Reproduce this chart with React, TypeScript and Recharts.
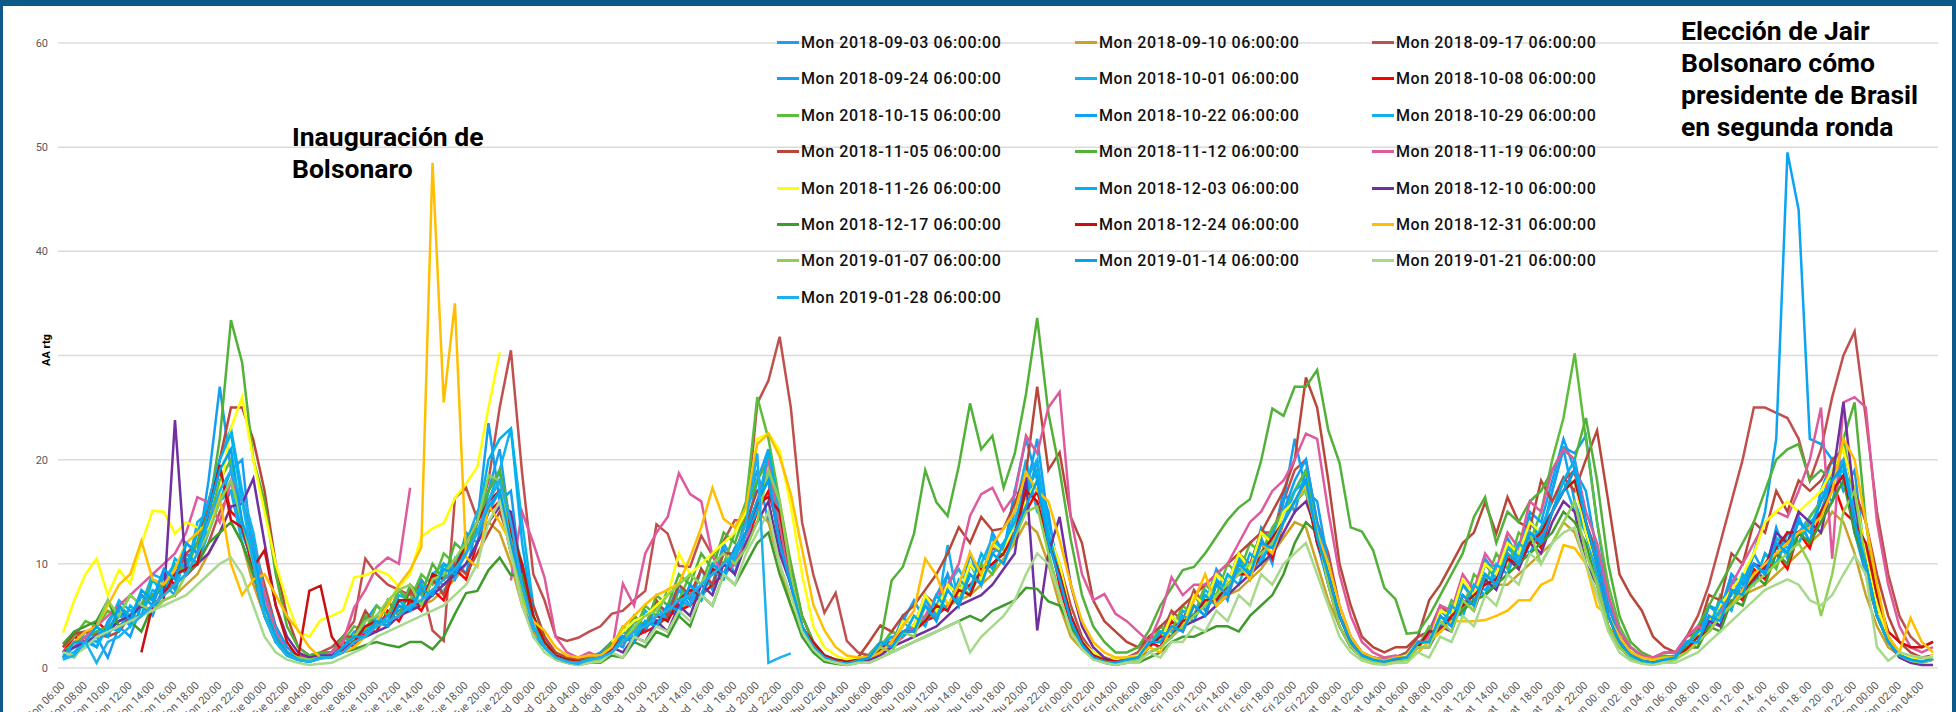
import React from "react";
import { LineChart, Line, XAxis, YAxis, CartesianGrid } from "recharts";

const FONT = "Roboto, 'Liberation Sans', Arial, sans-serif";
const N = null;

// Hourly categories from Mon 06:00 to the next Mon 05:00 (168 points).
const DAY_PREFIX = ["Mon ", "Tue ", "Wed  ", "Thu ", "Fri ", "Sat  ", "Sun ", "Mon "];
const START_HOUR = 6;
const HOURS = 168;
const Y_TICKS = [0, 10, 20, 30, 40, 50, 60];

// One line per day (06:00 .. 05:00).
const S0903 = [
  1, 2.5, 3, 2, 4.5, 6, 5, 7, 6.5, 9, 8, 11, 10, 14, 16, 19, 13, 10, 5, 3, 1.5, 1, 1, 1.2,
  1.5, 3, 2.5, 4.5, 6, 5, 7.5, 6, 8.5, 7, 10, 9, 13, 12, 17, 21, 13, 7, 4, 2, 1.2, 0.8, 0.7, 1,
  1.5, 2.5, 2, 4.5, 4, 6, 5.5, 8, 6.5, 9.5, 8, 12, 10, 15, 19, 14, 12, 8, 4, 2, 1, 0.8, 0.6, 0.8,
  1.3, 2.5, 2, 4.5, 6.5, 4.5, 7, 9, 6, 10, 8.5, 12, 11, 17, 16, 20, 11, 7, 4, 2, 1, 0.7, 0.6, 0.8,
  1.5, 3, 2.5, 5, 4, 7, 6, 9.5, 8, 11, 9, 13.5, 12, 17, 15, 19, 12, 8, 5, 3, 1.5, 1, 0.8, 1,
  1.5, 3, 3.5, 6, 5, 8, 7, 10.5, 9, 12, 10, 14, 12.5, 17, 21, 16, 13, 9, 6, 3, 1.5, 1, 0.8, 1,
  1.2, 2.5, 3, 6, 5, 8.5, 7, 10, 9, 12.5, 11, 14.5, 12, 17, 16, 20, 13, 9, 5, 3, 1.5, 1, 0.8, 1,
];
const S0910 = [
  1.5, 2, 2.5, 3, 4, 4.5, 5, 5, 6, 6.5, 7, 8, 9, 11, 13, 14, 12, 8, 5, 2.5, 1.5, 1, 0.8, 1,
  1.2, 2, 2.5, 3.5, 4, 4.5, 5, 5.5, 6, 6.5, 7.5, 8.5, 10, 12, 14, 13, 10, 6, 3.5, 2, 1, 0.8, 0.6, 0.8,
  1.2, 2, 3, 3.5, 4, 5, 5, 6, 6, 7, 8, 9, 10, 12, 15, 14, 10, 6, 3.5, 2, 1, 0.7, 0.6, 0.8,
  1.2, 2, 2.5, 3.5, 4, 4.5, 5.5, 6, 6.5, 7, 8, 9, 10.5, 12, 14, 13, 10, 6, 3, 1.8, 1, 0.7, 0.6, 0.8,
  1.3, 2, 3, 4, 4.5, 5, 6, 6.5, 7, 7.5, 8.5, 9.5, 11, 12.5, 14, 13.5, 10, 6.5, 4, 2, 1.2, 0.9, 0.7, 0.9,
  1.3, 2, 3, 4, 5, 6, 6.5, 7, 8, 8, 9, 10, 11, 12, 14, 13, 10, 7, 4, 2.5, 1.3, 0.9, 0.7, 0.9,
  1, 1.8, 3, 4, 5, 6, 7, 7.5, 8, 9, 10, 11, 12, 13, 15, 14, 11, 7, 4, 2, 1.2, 0.8, 0.7, 0.8,
];
const S0917 = [
  2, 3, 3.5, 3, 3.5, 4, 5, 6, 7, 7.5, 8, 9, 10, 12, 15, 17, 16, 12, 8, 4, 2, 1.2, 1, 1.5,
  2, 3, 4.5, 10.5, 9, 8, 7.5, 7, 8.1, 3.6, 2.6, 16.3, 17.3, 14.3, 18, 25, 30.5, 18.7, 9, 6.5, 3, 2.6, 2.9, 3.5,
  4, 5.2, 5.5, 6.5, 7.4, 13.8, 12.9, 9.8, 9.7, 12.7, 10.8, 12.2, 14.2, 14.1, 25.4, 27.6, 31.8, 25, 14, 9, 5.3, 7.2, 2.6, 1.5,
  1.2, 2.5, 2.5, 4.5, 4, 7, 6, 8, 7, 10, 9, 11.5, 11, 14, 17, 19, 13, 10, 6, 3, 1.5, 1, 0.8, 1,
  1.5, 3, 3, 5.5, 4.5, 7.5, 6, 9, 8, 11, 10, 13, 13, 16, 19, 20, 14, 11, 6, 3, 1.5, 1, 0.8, 1,
  1.5, 3, 3.5, 6, 5, 8, 7, 10, 9, 11, 10, 13, 12, 15, 18, 19, 14, 11, 6, 3, 2, 1.2, 1, 1.5,
  1.5, 3, 5, 8, 12, 16, 20, 25, 25, 24.5, 24, 22, 18, 21, 26, 30, 32.3, 24, 15, 9, 5, 3, 2, 2.5,
];
const S0924 = [
  0.8, 1.5, 2.5, 3, 1, 4, 3, 6, 5, 8, 7, 12, 11, 18, 27, 19, 20, 10, 7, 4, 2, 1, 0.8, 1,
  1, 2.5, 2, 5, 4, 6.5, 5, 7.5, 6, 9, 7, 10.5, 9, 14, 23.5, 16, 17, 8, 3, 2, 1, 0.7, 0.5, 0.8,
  1, 2.5, 2, 4.5, 3.5, 6, 4.5, 7.5, 6, 9.5, 7.5, 11.5, 9, 13, 18, 21, 12, 8, 4, 2, 1, 0.7, 0.6, 0.8,
  1.2, 2.5, 2, 5, 3.5, 6.5, 5, 9, 6, 11, 8, 13, 11, 17, 22, 18, 15, 8, 4, 2, 1, 0.6, 0.5, 0.8,
  1, 2.5, 2, 5, 4, 7, 5.5, 8.5, 6.5, 10.5, 8.5, 12.5, 10, 16, 22, 17, 16, 10, 5, 2.5, 1.2, 0.8, 0.7, 1,
  1.2, 2.5, 2.5, 5.5, 5, 8, 6.5, 10, 8.5, 12.5, 10.5, 14.5, 12, 17, 21.2, 20.6, 22.3, 14, 7, 3, 1.5, 0.8, 0.6, 0.9,
  1, 2.5, 3, 6, 5, 9, 7.5, 11, 9, 13.5, 10.5, 14.5, 12, 17, 20, 17, 19, 10, 5, 2.5, 1.2, 0.8, 0.6, 0.8,
];
const S1001 = [
  1.5, 2, 3.5, 3, 4, 6.5, 5.5, 6, 9, 8.5, 10, 9, 14, 15, 20, 23, 17, 13, 7, 3.5, 1.5, 1, 0.8, 1,
  1.2, 2, 3.5, 3.5, 5, 4.5, 7, 6.5, 6, 9, 10, 8.5, 12, 15, 17, 19, 23, 14, 6, 3, 1.2, 0.8, 0.6, 0.8,
  1, 1.8, 3.5, 3, 5.5, 4.5, 5, 7.5, 7, 6.5, 10, 9, 11, 13, 16, 18, 12, 8, 4, 2, 1, 0.6, 0.5, 0.7,
  1, 2, 3.5, 3, 4, 6.5, 6, 8, 9.5, 7.5, 10, 12.5, 11, 15, 20, 15, 14, 9, 5, 2.5, 1.2, 0.8, 0.6, 0.8,
  1.2, 2, 3.5, 3, 5.5, 5, 7.5, 6.5, 8, 10.5, 9.5, 11, 13, 15, 17, 19, 13, 10, 5, 2.5, 1.2, 0.8, 0.6, 0.9,
  1, 2, 3.5, 4, 5.5, 5, 8, 7.5, 9, 11.5, 10.5, 12.5, 13, 15, 17, 18, 13, 10, 5, 2.5, 1.2, 0.7, 0.5, 0.8,
  1, 2, 3.5, 4, 6.5, 6, 8.5, 10, 9, 12.5, 11.5, 13, 14.5, 16, 18, 20, 15, 11, 6, 3, 1.5, 1, 0.7, 0.9,
];
const S1008 = [
  1.5, 3, 2.5, 4.5, 3.5, 5.5, 4.5, 7, 6, 9, 8, 11, 10, 15, 19, 15, 14, 9, 5, 2.5, 1.2, 0.8, 0.7, 1,
  1.2, 2.5, 2, 3.5, 3.5, 5.5, 4.5, 6.5, 5.5, 7.5, 6.5, 9.5, 8.5, 12, 15, 16, 11, 8, 4, 2, 1, 0.6, 0.5, 0.8,
  1, 1.5, 2.5, 3, 3.5, 4, 5, 5.5, 6, 7, 8, 9, 10, 12, 15, 17, 13, 8, 4, 2, 1, 0.6, 0.5, 0.7,
  1, 1.5, 2.5, 3, 4, 4.5, 5, 6, 7, 8, 9, 10, 11, 13, 15, 17, 13, 8, 4, 2, 1, 0.6, 0.5, 0.8,
  1, 2.5, 2, 4.5, 3.5, 6, 5, 8, 7, 10, 8.5, 12, 10.5, 14, 16, 18, 12, 9, 5, 2.5, 1.2, 0.8, 0.6, 0.9,
  1, 2.5, 2.5, 5, 4, 7, 6, 9, 8, 11, 9.5, 13, 11.5, 15, 17, 19, 13, 10, 5, 2.5, 1.2, 0.7, 0.5, 0.8,
  1, 2.2, 2.5, 5, 4, 7.5, 6.5, 9.5, 8.5, 11, 9.5, 13, 11.5, 15, 18, 15, 14, 9, 5, 2.5, 1.2, 0.8, 0.6, 0.9,
];
const S1015 = [
  2, 3, 4.5, 4, 5.5, 5, 7, 6, 8.5, 8, 10, 9.5, 12, 14, 18, 20, 14, 10, 5, 2.5, 1.2, 0.8, 0.7, 1,
  1.5, 2.5, 4, 3.5, 6, 5, 7.5, 6.5, 9, 8, 11, 10, 12.5, 13, 16, 18, 13, 9, 5, 2.5, 1.2, 0.8, 0.5, 0.7,
  1.2, 2, 4, 3.5, 6, 5, 7.5, 6.5, 9, 8, 11, 10, 13, 16, 26, 22, 16, 10, 5, 2.5, 1.2, 0.7, 0.5, 0.7,
  1, 2, 3.5, 3, 5, 4.5, 7, 5.5, 8, 7, 10, 9, 12, 13, 16, 18, 12, 9, 5, 2.5, 1.2, 0.7, 0.5, 0.7,
  1.2, 2, 4, 3.5, 6, 5, 8, 7, 10, 9, 12, 11, 13.5, 15, 17, 19, 13, 10, 5, 2.5, 1.2, 0.8, 0.6, 0.8,
  1.2, 2, 4, 3.5, 6.5, 5.5, 9, 8, 11, 9.5, 13, 12, 15, 20, 24, 30.2, 22, 14, 8, 4, 2, 1, 0.7, 0.9,
  1, 2, 4, 3.5, 7, 6, 9, 8, 11, 9.5, 13, 12, 14.5, 16, 18, 22, 16, 11, 6, 3, 1.5, 1, 0.7, 0.9,
];
const S1022 = [
  1, 2, 2, 3.5, 3, 5.5, 4, 7, 6, 9, 7.5, 11, 10, 14, 16, 18, 13, 10, 5, 2.5, 1.2, 0.8, 0.6, 0.9,
  1.2, 2, 3, 3.5, 4, 5, 5.5, 6, 6.5, 7, 8, 9, 10, 12, 15, 17, 14, 8, 4, 2, 1, 0.7, 0.5, 0.8,
  1, 1.8, 2.5, 3, 4, 4.5, 5, 6, 7, 8, 9, 10, 11, 13, 16, 18, 14, 8, 4, 2, 1, 0.6, 0.4, 0.7,
  1, 2.5, 2, 4.5, 3.5, 6, 5, 8, 7, 10, 8.5, 12, 11, 14, 17, 22, 14, 9, 5, 2.5, 1.2, 0.7, 0.5, 0.8,
  1.2, 2.5, 2.5, 5, 4, 7, 6, 8.5, 7.5, 10.5, 9.5, 13, 12, 15, 18, 20, 14, 10, 5, 2.5, 1.2, 0.8, 0.6, 0.9,
  1.2, 2.5, 2.5, 5.5, 4.5, 8, 7, 10, 9, 12, 11, 15, 14, 18, 22, 19, 17, 11, 6, 3, 1.5, 0.8, 0.6, 0.9,
  1, 2.5, 2.5, 6, 5.5, 9, 8, 11, 15, 22, 49.5, 44, 22, 21.5, 20, 18, 14, 9, 5, 2.5, 1.2, 0.8, 0.6, 0.9,
];
const S1029 = [
  1.2, 2, 3, 2.5, 3.5, 5, 4.5, 5, 7.5, 7, 8, 10.5, 10, 13, 16, 17, 12, 9, 5, 2.5, 1.2, 0.8, 0.6, 1,
  1, 2, 3, 3, 4.5, 4.5, 6, 5.5, 6.5, 8.5, 8, 9, 11.5, 13, 16, 19, 12, 9, 4, 2, 1, 0.6, 0.5, 0.8,
  1, 1.5, 3, 3, 4.5, 4, 5.5, 6.5, 6, 8, 9.5, 9, 10.5, 13, 16, 19, 12, 8, 4, 2, 1, 0.6, 0.5, 0.7,
  1, 1.8, 2.5, 3.5, 4, 7, 5, 11.8, 6, 10, 8, 11, 12, 14, 18, 20, 13, 9, 5, 2.5, 1.2, 0.7, 0.5, 0.8,
  1, 2, 3.5, 3.5, 4.5, 5, 7, 6.5, 7.5, 9.5, 9, 10.5, 12, 14, 17, 18, 12, 9, 5, 2.5, 1.2, 0.8, 0.6, 0.9,
  1, 2, 3.5, 3.5, 5, 6, 7.5, 7, 8.5, 10.5, 10, 12, 13.5, 16, 18, 15, 13, 9, 5, 2.5, 1.2, 0.7, 0.5, 0.8,
  1, 2, 3.5, 4, 5.5, 7, 8.5, 8, 10, 11.5, 11, 13, 13.5, 16, 19, 20, 13, 10, 5, 2.5, 1.2, 0.8, 0.6, 0.9,
];
const S1105 = [
  2, 3.3, 3.5, 3.2, 3, 3.5, 5, 6, 7, 8, 9, 11, 12, 16, 20, 25, 25, 21.9, 17, 10, 5, 2, 1.2, 1.5,
  1.5, 3, 3, 5.5, 4, 6.5, 5, 7.5, 6, 8.5, 7, 10, 9, 11, 13, 15, 12, 10, 6, 3, 1.5, 1, 0.8, 1,
  1.2, 2.5, 2.5, 5, 4, 6.5, 5, 8, 7, 9.5, 8, 11, 11, 14, 17, 18, 12, 9, 5, 2.5, 1.2, 0.8, 0.7, 1,
  2.5, 4.1, 3.5, 5, 6, 7.5, 9, 11, 13.5, 12, 14.5, 13.2, 13.4, 15.8, 18.7, 27, 19, 20.7, 14.5, 12, 6.5, 4.5, 3.5, 2.5,
  2, 3, 4, 5, 6, 7, 8, 9, 10, 11, 12, 13, 15, 17, 20, 27.9, 25, 18, 10, 6, 3, 2, 1.5, 2,
  2, 3, 6.5, 8, 10, 12, 13, 15.9, 12.9, 16.4, 14, 13.4, 18, 16, 18.3, 17, 20, 22.8, 16, 9, 7, 5.5, 3, 2,
  1.5, 3, 3.5, 7, 6.5, 11, 10, 14, 13, 17, 15, 18, 17, 18, 20, 21, 17, 14, 9, 5, 2.5, 1.5, 1, 1.2,
];
const S1112 = [
  1.5, 2.5, 3, 3.5, 4, 4.5, 5, 6, 7, 8, 9, 10, 12, 15, 22, 33.4, 29.3, 20, 16, 9, 4, 2, 1.2, 1.5,
  1.5, 3, 2.5, 5, 4, 6.5, 5, 8, 7, 10, 8.5, 12, 11, 14, 17, 19, 14, 10, 5, 2.5, 1.2, 0.8, 0.6, 0.9,
  1.2, 2.5, 2.5, 5, 4, 7, 6, 9, 8, 11, 9.5, 13, 12, 15, 18, 20, 14, 10, 5, 2.5, 1.2, 0.8, 0.6, 0.9,
  1.2, 2.5, 8.4, 9.7, 12.9, 19, 15.9, 14.6, 19.4, 25.4, 21, 22.3, 17.3, 20.6, 26.3, 33.6, 24.5, 19, 12.3, 7, 4, 2.5, 1.5, 1.5,
  2, 3.6, 6, 7.7, 9.4, 9.7, 11, 12.6, 14.2, 15.4, 16.2, 19.9, 24.9, 24.2, 27, 27, 28.6, 22.8, 19.7, 13.5, 13.1, 11.3, 7.7, 6.6,
  3.3, 3.4, 5, 7, 9, 11, 14.5, 16.4, 12, 15, 14, 16, 17, 19, 21, 20, 24, 18, 10, 5, 2.5, 1.5, 1, 1.2,
  1, 2, 4, 6, 8, 10, 12, 14, 17, 20, 21, 21.5, 18, 19, 18, 22, 25.5, 14, 7, 3, 1.5, 1, 0.7, 0.9,
];
const S1119 = [
  1.5, 2, 3, 4, 5, 6, 7, 8, 9, 10, 11, 13, 16.4, 15.9, 14, 18, 16, 12, 7, 3.5, 1.5, 1, 0.8, 1,
  1.5, 2.5, 5.8, 7.5, 9.7, 10.6, 10, 17.3, N, N, N, N, N, N, N, N, 8.4, 15, 12, 8.7, 3, 1.5, 1, 1.5,
  1, 1.5, 8.1, 6, 11, 13, 14.5, 18.7, 16.7, 16, 10.7, 9, 10, 12, 16, 20, 14, 8, 4, 2, 1, 0.7, 0.5, 0.8,
  1, 1.5, 2, 3, 4, 5, 7, 8, 10, 14.6, 16.7, 17.3, 15.1, 16.6, 22.3, 20.6, 25, 26.5, 14.5, 9, 6.5, 7.1, 5.2, 4.5,
  3.5, 2.5, 5, 8.7, 7, 8, 8, 9, 10, 12, 14, 15, 17, 18, 20, 22.5, 22, 15, 9, 5, 2.5, 1.5, 1, 1.2,
  1, 2.5, 3, 6, 5.5, 9, 7.5, 11, 9.5, 13, 11.5, 16, 15, 19, 21, 20, 15, 12, 7, 3.5, 2, 1.2, 1, 1.5,
  1.5, 3, 4, 3.5, 5, 8, 10, 12, 14, 15, 14.5, 17, 20, 25, 10.5, 25.5, 26, 25, 14, 8, 4, 2, 1.5, 2,
];
const S1126 = [
  3.4, 6.5, 9, 10.5, 7, 9.4, 8.1, 11.9, 15.1, 15, 12.9, 14, 13.5, 13.3, 16.7, 23, 26, 20, 15, 10, 6.4, 3.5, 3, 4.6,
  5, 5.5, 8.7, 8.9, 9.4, 9, 7.8, 9, 12.6, 13.4, 13.9, 16.3, 17.7, 19.3, 25, 30.3, N, N, N, N, N, N, N, N,
  N, 2.5, 3.5, 4.5, 5, 6, 7, 11, 9, 10, 11, 12, 13, 15, 22, 22.5, 20.9, 15.5, 9, 4, 2, 1.2, 0.8, 1,
  1, 2.5, 2, 4.5, 4, 7, 5.5, 8, 7, 10, 8.5, 12, 11, 14, 16, 18, 13, 10, 5, 2.5, 1.5, 1, 0.8, 1,
  1.2, 2.5, 2.5, 5, 4, 7, 6, 9, 8, 11, 9.5, 13, 12, 15, 16, 17.5, 12, 10, 5, 2.5, 1.2, 0.8, 0.6, 0.9,
  1.2, 2.5, 2.5, 5.5, 5, 8.5, 7, 10, 9, 12, 11, 14, 13, 15, 17, 18, 13, 10, 5, 2.5, 1.2, 0.8, 0.6, 0.9,
  1, 2, 3, 4.5, 6, 7.5, 9, 11, 14, 15, 16, 15, 16, 17, 19, 21, 17, 11, 6, 3, 1.5, 1, 0.7, 1.2,
];
const S1203 = [
  1, 1.5, 2.5, 2, 4, 3.5, 6, 5, 8.5, 7, 10.5, 9.5, 13, 16, 20, 22.5, 16, 12, 6, 3, 1.5, 0.8, 0.6, 1,
  1, 2, 3, 3, 5, 4, 6.5, 5.5, 8, 7, 10, 9.5, 12.5, 14, 20, 22, 23, 12, 5, 2, 1, 0.6, 0.5, 0.8,
  1, 1.5, 3, 2.5, 4.5, 4, 6, 5, 8, 6.5, 9.5, 8.5, 11, 13, 15, 21, 15, 9, 4, 2, 1, 0.6, 0.5, 0.7,
  1, 2, 3, 3, 5, 4, 7, 5.5, 8.5, 7.5, 11, 9.5, 12, 14, 17, 19, 13, 9, 5, 2.5, 1.2, 0.7, 0.5, 0.8,
  1, 2, 3.5, 3, 5, 4.5, 7, 6, 9, 8, 11, 10, 12.5, 14, 16, 17, 12, 9, 5, 2.5, 1.2, 0.8, 0.6, 0.9,
  1, 2, 3.5, 3.5, 6, 5, 8, 7, 10, 9, 12, 11, 13.5, 15, 18, 20, 14, 10, 5, 2.5, 1.2, 0.7, 0.5, 0.8,
  1, 2, 3.5, 4, 6.5, 5.5, 9, 8, 11, 10, 13, 12, 14, 15, 18, 19, 14, 10, 5, 2.5, 1.2, 0.8, 0.6, 0.9,
];
const S1210 = [
  1.5, 2, 2.5, 3, 3.5, 4.5, 5, 6, 5.5, 6.5, 23.8, 8.9, 10, 11, 13, 15.5, 15.8, 18.2, 12, 6, 3, 1.5, 1, 1.2,
  1.2, 1.8, 2.5, 3, 3.5, 4, 5, 5.5, 6, 7, 8, 9, 10, 12, 14, 15.5, 15, 9, 4, 2, 1, 0.6, 0.5, 0.8,
  1, 2, 1.5, 3, 2.5, 4.5, 3.5, 6, 5, 8, 7, 10, 9, 12, 14, 16, 11, 8, 4, 2, 1, 0.6, 0.4, 0.7,
  0.8, 1.2, 2, 2.5, 3, 3.5, 4, 5, 6, 6.5, 7, 8, 9.5, 11, 18.3, 3.6, 11, 14.5, 8, 4, 2, 1, 0.6, 0.8,
  1, 1.5, 2, 3, 4, 4.5, 5, 6, 7, 8, 9, 10, 11, 13, 15, 16, 13, 8, 4, 2, 1, 0.7, 0.5, 0.8,
  1, 2, 2, 4, 3.5, 6.5, 5.5, 8.5, 7.5, 10.5, 9.5, 12, 11, 14, 16, 15, 10, 8, 4, 2, 1, 0.6, 0.5, 0.8,
  1, 2, 2, 4.5, 4, 7.5, 7, 10, 9.5, 13, 12, 15, 14, 13, 18, 25.5, 16, 10, 5, 2.5, 1, 0.5, 0.3, 0.3,
];
const S1217 = [
  2.3, 3.5, 4, 4.5, 6.5, 4, 4.5, 3.5, 6, 7, 8, 9, 10, 12, 13, 14, 12, 9, 6, 3, 1.5, 1, 0.8, 1,
  1, 1.5, 1.8, 2.2, 2.5, 2.2, 2, 2.5, 2.5, 1.8, 3, 5.2, 7.2, 7.4, 9.4, 10.6, 8.9, 9, 5, 2, 0.8, 0.5, 0.3, 0.5,
  0.5, 1.2, 1, 2.5, 2, 3.5, 3, 5, 4, 7, 6, 9, 8, 10, 12, 13, 9, 6, 3, 1.5, 0.6, 0.4, 0.3, 0.5,
  0.5, 1, 1.5, 2, 2.5, 3, 3.5, 4, 4.5, 5, 4.5, 5.5, 6, 6.5, 7.7, 7.6, 6.4, 6, 4, 2, 1, 0.5, 0.3, 0.5,
  0.5, 1, 1.5, 2.5, 3, 3, 3.5, 4, 4, 3.5, 5, 6, 7, 9, 12, 14, 13, 9, 5, 2.5, 1.2, 0.7, 0.4, 0.6,
  0.8, 1.5, 2.5, 3.5, 4.5, 5.5, 6.5, 7, 8, 9, 10, 11, 12, 13, 15, 14, 12, 8, 4, 2, 1, 0.6, 0.4, 0.6,
  0.8, 2, 2, 4, 3.5, 6.5, 6, 9, 8, 11, 10, 13, 12, 14, 16, 18, 13, 10, 5, 2.5, 1.2, 0.8, 0.5, 0.8,
];
const S1224 = [
  N, N, N, N, N, N, N, 1.5, 6, 7, 9, 9.5, 10, 15, 19.5, 14.2, 13.5, 9.7, 11.3, 6, 2.5, 1, 7.4, 7.9,
  3, 1.5, 2.5, 4, 4.5, 4, 6.5, 6.5, 6, 9, 8.5, 9.5, 12, 14, 16, 17, 13, 10, 5, 2.5, 1.2, 0.8, 0.6, 0.8,
  1, 1.8, 3, 2.5, 4, 5, 4.5, 6.5, 7.5, 7, 9.5, 9, 11.5, 13, 15.8, 16.4, 15, 9, 3.9, 2.5, 1.2, 0.8, 0.6, 0.8,
  1, 1.8, 2.5, 3.5, 3.5, 4.5, 6, 5.5, 7.5, 7, 9.5, 10, 11, 13, 17, 16, 12, 9, 5, 2.5, 1.2, 0.8, 0.6, 0.8,
  1, 2, 3, 3, 4.5, 5, 6.5, 6.5, 8, 9, 9, 11, 12.5, 14, 16, 17, 12, 9, 5, 2.5, 1.2, 0.8, 0.6, 0.9,
  1, 2, 3.5, 3.5, 5, 6, 7, 8, 8.5, 10.5, 10, 12, 13, 15, 17, 18, 14, 10, 5, 2.5, 1.2, 0.7, 0.5, 0.8,
  1, 1.8, 3, 3.5, 5, 6, 7.5, 8.5, 10, 11.5, 13, 13, 13.5, 15, 17, 18.5, 14, 12, 7, 3.5, 2.5, 2, 2, 2.5,
];
const S1231 = [
  1, 2.5, 3.5, 4, 6, 8, 9, 12.2, 8.5, 8, 9.5, 12, 13, 14, 16.4, 10, 7, 8.5, 9, 7, 5, 3.6, 2, 1,
  1, 1.5, 2, 3, 4.5, 6, 8, 9.4, 11.6, 48.5, 25.5, 35, 10.6, 9.7, 15.6, 14, 12, 6.5, 4.5, 3.6, 2, 1.2, 1, 1.2,
  1.2, 2, 3.9, 5, 6.1, 7, 7.5, 8.1, 10.6, 13.5, 17.3, 14.3, 13.5, 15.4, 21.5, 22.5, 20.3, 16.7, 11.4, 6.1, 3.6, 2, 1.2, 1,
  1, 1.5, 2.5, 4, 5.5, 10.5, 8.9, 6, 8, 11.1, 9, 11.8, 13.4, 15, 18.8, 17, 16, 12.3, 8, 4.5, 2.5, 1.5, 1, 1,
  1, 2, 1.5, 4, 3.5, 6.5, 9, 6, 7, 10, 8.5, 12, 11, 14, 16, 17.5, 13, 10, 6, 3, 1.5, 1, 0.7, 1,
  1, 1.5, 2.5, 3.5, 4.5, 4.5, 4.5, 4.6, 5, 5.5, 6.5, 6.5, 8, 8.5, 11.8, 11.5, 10, 5.9, 5, 3, 1.5, 1, 0.8, 1,
  1, 1.5, 2.5, 3.5, 5, 6, 7.5, 9, 10, 11, 12, 13, 13.5, 14.5, 17, 22, 20, 14, 8, 3, 1.5, 4.8, 2.5, 1.5,
];
const S0107 = [
  1.5, 1, 2.5, 4, 6.5, 5, 7, 6, 5.5, 6.5, 7, 9, 11, 13, 16, 18, 14, 10, 6, 3, 1.5, 1, 0.8, 1,
  1, 2, 3, 4.5, 5, 6.5, 7.5, 8, 6, 8.5, 9, 10.5, 12, 14, 18.5, 18, 12, 7, 4, 2, 1, 0.6, 0.5, 0.8,
  0.8, 1.5, 2.5, 4, 5, 5.5, 7, 8, 9, 8, 10, 11, 10, 11.5, 14, 19, 16, 9, 4, 2, 1, 0.6, 0.4, 0.7,
  1, 2, 1.5, 3.5, 3, 6, 4.5, 7.5, 6, 9, 8, 11, 10, 12.5, 15, 15.5, 11, 7, 3.5, 2, 1, 0.6, 0.4, 0.6,
  0.8, 1.5, 2, 3, 4, 5, 6, 7, 8, 9, 10, 11, 12, 14, 16, 17, 13, 8, 4, 2, 1, 0.6, 0.4, 0.6,
  0.8, 2, 2, 4.5, 3.5, 6.5, 5.5, 9, 8, 11, 10, 13, 10, 12, 14, 16, 11, 8, 4, 2, 1, 0.5, 0.4, 0.6,
  0.8, 1.5, 2.5, 3.5, 5, 6, 7, 8, 9, 10, 11, 12, 10, 5, 9, 15, 17, 10, 5, 2.5, 1.2, 0.7, 0.5, 0.8,
];
const S0114 = [
  1, 2.5, 2.5, 4, 3, 6, 4.5, 7.5, 6.5, 9.5, 8.5, 12, 11, 15, 19, 21, 14, 11, 6, 3, 1.5, 0.8, 0.6, 1,
  1, 2, 3, 3, 4.5, 4, 6, 5.5, 7.5, 7, 9.5, 9, 11, 13, 15.5, 17, 12, 8, 4, 2, 1, 0.6, 0.5, 0.8,
  1, 1.5, 3, 2.5, 4.5, 4, 6, 5.5, 8, 7, 10, 9, 11.5, 13, 16, 18, 12, 8, 4, 2, 1, 0.6, 0.4, 0.7,
  1, 2.5, 2, 3.5, 3.5, 6, 4.5, 7.5, 6, 9, 8, 11, 10, 13, 15.5, 18, 12, 8.5, 4.5, 2.2, 1, 0.6, 0.5, 0.8,
  1, 2.5, 2.5, 4, 3.5, 6, 5, 8, 7, 10, 9, 12, 11.5, 14, 16, 18, 12.5, 9, 5, 2.5, 1.2, 0.8, 0.6, 0.9,
  1, 2.5, 2.5, 5, 4, 7, 6, 9, 8, 11, 10, 13, 12, 15, 17, 19, 14, 10, 5, 2.5, 1.2, 0.7, 0.5, 0.8,
  1, 2.5, 2.5, 5, 4.5, 7.5, 7, 10, 9, 12, 11, 14, 13, 16, 18, 19.5, 14, 10, 5, 2.5, 1.2, 0.8, 0.6, 0.9,
];
const S0121 = [
  1.5, 1.2, 2, 3, 3.5, 4, 4.5, 5, 5.5, 6, 6.5, 7, 8, 9, 10, 10.6, 9, 6, 3, 1.5, 0.8, 0.5, 0.3, 0.4,
  0.5, 1, 1.5, 2, 3, 3.5, 4, 4.5, 5, 5.5, 6, 7, 8, 10, 14, 16, 11, 6, 3, 1.5, 0.8, 0.5, 0.3, 0.5,
  0.6, 1.5, 1, 3, 2.5, 4, 3.5, 5.5, 4.5, 7, 6, 9, 8, 11, 13, 15, 10, 7, 3.5, 1.8, 0.8, 0.5, 0.3, 0.5,
  0.5, 1, 1.5, 2, 2.5, 3, 3.5, 4, 4.5, 1.5, 3, 4, 5, 6.5, 9, 11, 10, 7, 3.5, 1.8, 0.8, 0.5, 0.3, 0.5,
  0.5, 1.5, 1, 2.5, 2.5, 4, 3.5, 5.5, 4.5, 7, 6, 9, 8, 10, 11, 12, 9, 6, 3, 1.5, 0.7, 0.4, 0.3, 0.5,
  0.5, 1.5, 1, 3, 2.5, 5, 4, 7, 6, 9, 8, 11, 10, 12, 13, 13.5, 10, 7, 3.5, 1.5, 0.7, 0.4, 0.3, 0.5,
  0.5, 1, 1.5, 2.5, 3.5, 4.5, 5.5, 6.5, 7.5, 8, 8.5, 8, 6.5, 6, 7, 9, 10.8, 9, 2, 0.7, 1.5, 1.2, 1, 1,
];
// last week only has data up to Wed 23:00
const S0128 = [
  0.8, 1.2, 2.5, 0.5, 2.5, 3, 4, 5, 6, 7, 8, 9, 11, 14, 17, 19, 16, 10, 5, 2.5, 1.2, 0.8, 0.6, 0.9,
  1, 1.5, 2.5, 3, 4, 4.5, 5, 6, 6.5, 7.5, 8.5, 9.5, 11, 13, 16, 18, 14, 8, 4, 2, 1, 0.6, 0.4, 0.8,
  1, 1.5, 2.5, 3.5, 4, 5, 5.5, 6.5, 7, 8, 9, 10, 11, 14, 20.6, 0.5, 1, 1.4,
];

const SERIES = [
  { key: "s0903", name: "Mon 2018-09-03 06:00:00", color: "#1aa0ec", values: S0903 },
  { key: "s0910", name: "Mon 2018-09-10 06:00:00", color: "#c9a227", values: S0910 },
  { key: "s0917", name: "Mon 2018-09-17 06:00:00", color: "#c0504d", values: S0917 },
  { key: "s0924", name: "Mon 2018-09-24 06:00:00", color: "#159ff2", values: S0924 },
  { key: "s1001", name: "Mon 2018-10-01 06:00:00", color: "#14b1ee", values: S1001 },
  { key: "s1008", name: "Mon 2018-10-08 06:00:00", color: "#ff0000", values: S1008 },
  { key: "s1015", name: "Mon 2018-10-15 06:00:00", color: "#5cbd3a", values: S1015 },
  { key: "s1022", name: "Mon 2018-10-22 06:00:00", color: "#0ba3f2", values: S1022 },
  { key: "s1029", name: "Mon 2018-10-29 06:00:00", color: "#12b0ee", values: S1029 },
  { key: "s1105", name: "Mon 2018-11-05 06:00:00", color: "#b8473a", values: S1105 },
  { key: "s1112", name: "Mon 2018-11-12 06:00:00", color: "#52b139", values: S1112 },
  { key: "s1119", name: "Mon 2018-11-19 06:00:00", color: "#de5a9c", values: S1119 },
  { key: "s1126", name: "Mon 2018-11-26 06:00:00", color: "#ffff00", values: S1126 },
  { key: "s1203", name: "Mon 2018-12-03 06:00:00", color: "#00b2ef", values: S1203 },
  { key: "s1210", name: "Mon 2018-12-10 06:00:00", color: "#7030a0", values: S1210 },
  { key: "s1217", name: "Mon 2018-12-17 06:00:00", color: "#3f9b2b", values: S1217 },
  { key: "s1224", name: "Mon 2018-12-24 06:00:00", color: "#c81010", values: S1224 },
  { key: "s1231", name: "Mon 2018-12-31 06:00:00", color: "#ffbf00", values: S1231 },
  { key: "s0107", name: "Mon 2019-01-07 06:00:00", color: "#8fd14f", values: S0107 },
  { key: "s0114", name: "Mon 2019-01-14 06:00:00", color: "#00a4ef", values: S0114 },
  { key: "s0121", name: "Mon 2019-01-21 06:00:00", color: "#a7d98c", values: S0121 },
  { key: "s0128", name: "Mon 2019-01-28 06:00:00", color: "#1cb0ec", values: S0128 },
];

function hourLabel(i: number) {
  const t = START_HOUR + i;
  const day = Math.floor(t / 24);
  const hh = String(t % 24).padStart(2, "0");
  return day === 6 ? `${DAY_PREFIX[day]}${hh}: 00` : `${DAY_PREFIX[day]}${hh}:00`;
}

const rows = Array.from({ length: HOURS }, (_, i) => {
  const row: Record<string, string | number | null> = { label: hourLabel(i) };
  SERIES.forEach((s) => {
    row[s.key] = s.values[i] ?? null;
  });
  return row;
});

function XTick({ x, y, payload }: any) {
  return (
    <g transform={`translate(${x + 2.5},${y + 18})`}>
      <text
        textAnchor="end"
        transform="rotate(-45)"
        fontSize={11}
        fill="#595959"
        fontFamily={FONT}
        style={{ whiteSpace: "pre" }}
      >
        {payload.value}
      </text>
    </g>
  );
}

const LEGEND_X = [777, 1075, 1372];
const LEGEND_Y0 = 42.5;
const LEGEND_STEP = 36.4;

const NOTE_STYLE: React.CSSProperties = {
  position: "absolute",
  fontSize: 26.5,
  fontWeight: 700,
  lineHeight: "32px",
  color: "#000",
  whiteSpace: "nowrap",
};

export default function App() {
  return (
    <div
      style={{
        position: "absolute",
        left: 0,
        top: 0,
        width: 1956,
        height: 712,
        background: "#0d598a",
        overflow: "hidden",
        fontFamily: FONT,
      }}
    >
      <div style={{ position: "absolute", left: 3, top: 6, width: 1949, height: 706, background: "#ffffff" }}>
        <LineChart width={1949} height={706} data={rows} margin={{ top: 37, right: 14, bottom: 0, left: 0 }}>
          <CartesianGrid vertical={false} stroke="#dcdcdc" strokeWidth={1.5} />
          <XAxis
            dataKey="label"
            interval={1}
            height={44}
            padding={{ left: 5, right: 5 }}
            axisLine={false}
            tickLine={false}
            tickSize={0}
            tickMargin={0}
            tick={(p: any) => <XTick {...p} />}
          />
          <YAxis
            width={55}
            domain={[0, 60]}
            ticks={Y_TICKS}
            axisLine={false}
            tickLine={false}
            tickSize={0}
            tickMargin={10}
            tick={{ fontSize: 11, fill: "#595959", fontFamily: FONT }}
            tickFormatter={(v: number) => (v === 30 ? "" : String(v))}
          />
          {SERIES.map((s) => (
            <Line
              key={s.key}
              type="linear"
              dataKey={s.key}
              name={s.name}
              stroke={s.color}
              strokeWidth={2.5}
              dot={false}
              activeDot={false}
              connectNulls={false}
              isAnimationActive={false}
            />
          ))}
        </LineChart>
      </div>

      {/* y axis title */}
      <div
        style={{
          position: "absolute",
          left: 46,
          top: 350,
          transform: "translate(-50%, -50%) rotate(-90deg)",
          fontSize: 11,
          fontWeight: 700,
          color: "#000",
          whiteSpace: "nowrap",
        }}
      >
        AA rtg
      </div>

      {/* legend, 3 columns row-major */}
      {SERIES.map((s, i) => (
        <div
          key={s.key}
          style={{
            position: "absolute",
            left: LEGEND_X[i % 3],
            top: LEGEND_Y0 + Math.floor(i / 3) * LEGEND_STEP - 10,
            height: 20,
            display: "flex",
            alignItems: "center",
            whiteSpace: "nowrap",
          }}
        >
          <span style={{ display: "inline-block", width: 22, height: 3, background: s.color, marginRight: 2 }} />
          <span style={{ fontSize: 16, fontWeight: 500, letterSpacing: 0.6, color: "#111" }}>{s.name}</span>
        </div>
      ))}

      <div style={{ ...NOTE_STYLE, left: 292, top: 121 }}>
        Inauguración de
        <br />
        Bolsonaro
      </div>
      <div style={{ ...NOTE_STYLE, left: 1681, top: 15 }}>
        Elección de Jair
        <br />
        Bolsonaro cómo
        <br />
        presidente de Brasil
        <br />
        en segunda ronda
      </div>
    </div>
  );
}
